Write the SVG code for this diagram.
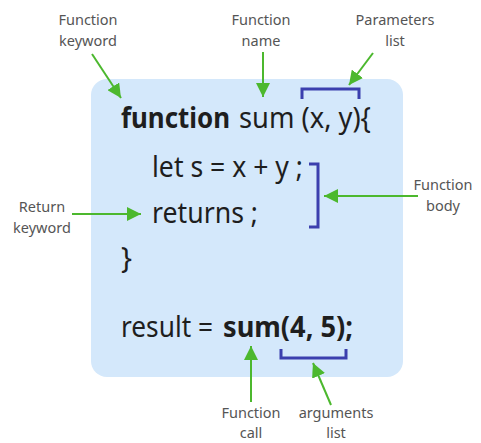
<svg xmlns="http://www.w3.org/2000/svg" width="481" height="443" viewBox="0 0 481 443">
<style>
.lbl{font-family:"Noto Sans","Open Sans",sans-serif;font-size:14.5px;fill:#555;text-anchor:middle}
.code{font-family:"Noto Sans","Open Sans",sans-serif;font-size:29px;fill:#1e1e1e}
.b{font-weight:bold}
.brk{stroke:#3b3fae;stroke-width:3;fill:none}
</style>
<defs>
<marker id="ah" viewBox="0 0 10 10" refX="10" refY="5" markerWidth="14" markerHeight="14" orient="auto" markerUnits="userSpaceOnUse">
<path d="M0,0 L10,5 L0,10 Z" fill="#4cb82e"/>
</marker>
</defs>
<g id="box"><rect x="91" y="79" width="312" height="298" rx="16" fill="#d4e8fb"/></g>
<g id="code">
<text class="code b" x="121" y="128" textLength="109" lengthAdjust="spacingAndGlyphs">function</text>
<text class="code" x="239" y="128" textLength="132" lengthAdjust="spacingAndGlyphs">sum (x, y){</text>
<text class="code" x="152" y="177" textLength="151" lengthAdjust="spacingAndGlyphs">let s = x + y ;</text>
<text class="code" x="152" y="223" textLength="106" lengthAdjust="spacingAndGlyphs">returns ;</text>
<text class="code" x="121" y="268">}</text>
<text class="code" x="121" y="337" textLength="92" lengthAdjust="spacingAndGlyphs">result =</text>
<text class="code b" x="223" y="337" textLength="130" lengthAdjust="spacingAndGlyphs">sum(4, 5);</text>
</g>
<g id="labels">
<text class="lbl" x="88" y="25">Function<tspan x="88" dy="21">keyword</tspan></text>
<text class="lbl" x="261" y="25">Function<tspan x="261" dy="21">name</tspan></text>
<text class="lbl" x="395" y="25">Parameters<tspan x="395" dy="21">list</tspan></text>
<text class="lbl" x="42" y="212">Return<tspan x="42" dy="21">keyword</tspan></text>
<text class="lbl" x="443" y="190">Function<tspan x="443" dy="21">body</tspan></text>
<text class="lbl" x="251" y="418">Function<tspan x="251" dy="20">call</tspan></text>
<text class="lbl" x="336" y="418">arguments<tspan x="336" dy="20">list</tspan></text>
</g>
<g id="brackets">
<path class="brk" d="M302,99 V89 H359 V99"/>
<path class="brk" d="M309,164 H318 V227 H309"/>
<path class="brk" d="M281,349 V358 H346 V349"/>
</g>
<g id="connectors" stroke="#4cb82e" stroke-width="2" fill="none">
<path d="M92,54 L121,98" marker-end="url(#ah)"/>
<path d="M263,52 L263,97" marker-end="url(#ah)"/>
<path d="M373,53 L349,85" marker-end="url(#ah)"/>
<path d="M418,196 L324,196" marker-end="url(#ah)"/>
<path d="M72,214 L141,214" marker-end="url(#ah)"/>
<path d="M251,402 L251,346" marker-end="url(#ah)"/>
<path d="M331,405 L313,363" marker-end="url(#ah)"/>
</g>
</svg>
